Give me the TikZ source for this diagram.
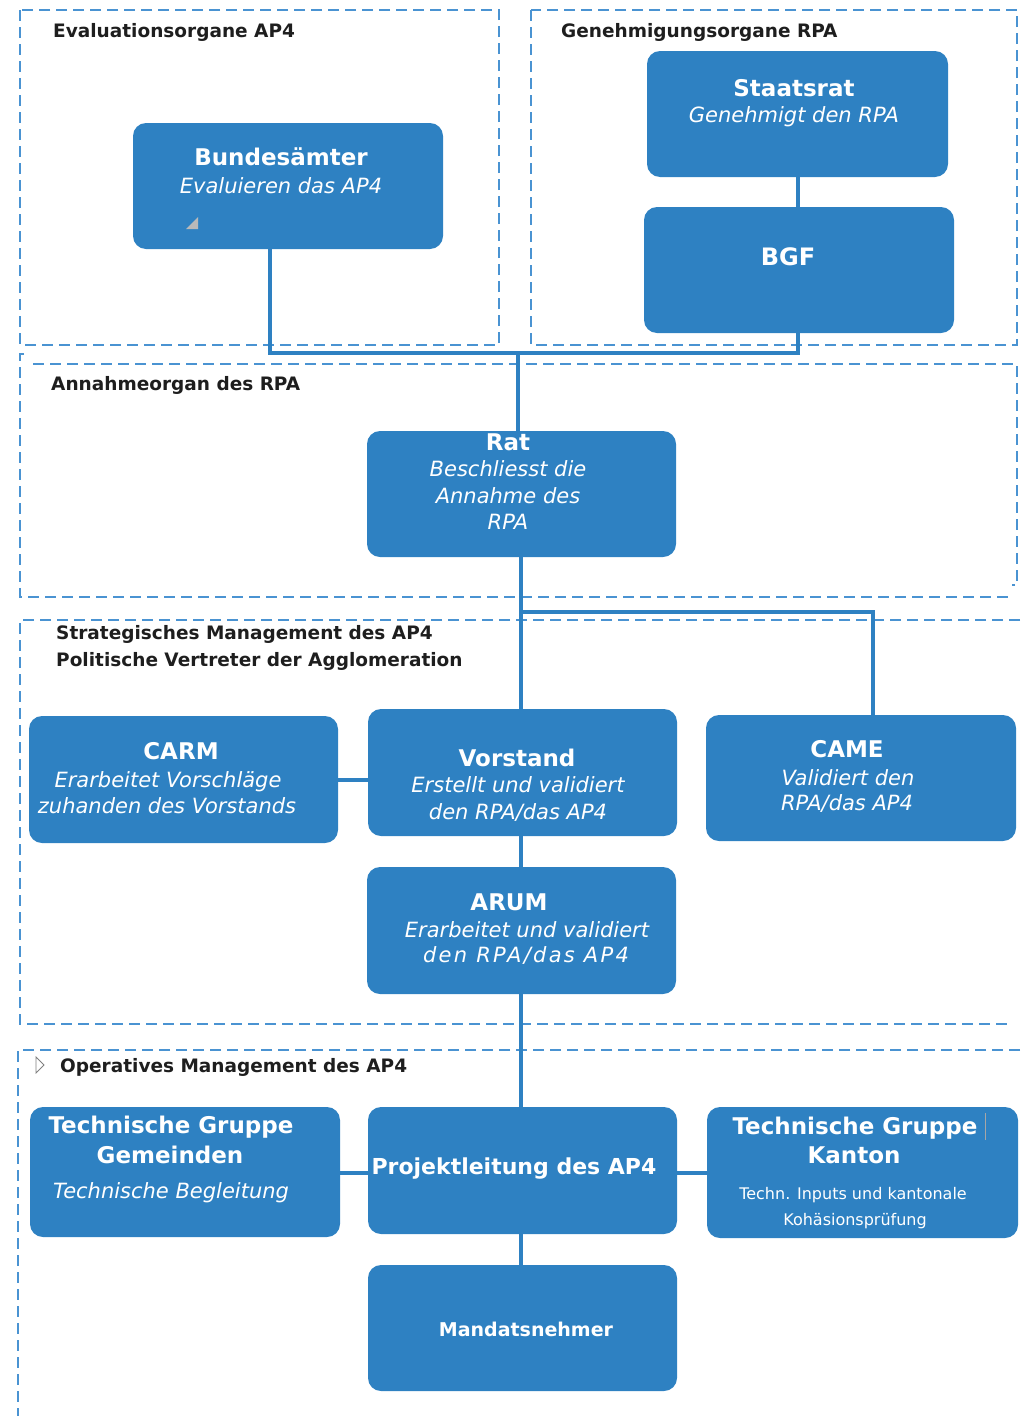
\documentclass[tikz,border=0pt]{standalone}
\usepackage{fontspec}
\setmainfont{DejaVu Sans}
\usetikzlibrary{calc}
\definecolor{boxblue}{HTML}{2E81C2}
\definecolor{dashblue}{HTML}{4A93D2}
\definecolor{hdrtext}{HTML}{1E1E1E}
\newcommand{\orgbox}[5]{\node[orgnode,minimum width={#4-#2},minimum height={#5-#3}] (#1) at ({(#2+#4)/2},{(#3+#5)/2}) {};}
\begin{document}
\begin{tikzpicture}[x=1pt,y=-1pt,
  orgnode/.style={draw=none,fill=boxblue,rounded corners=13pt,inner sep=0pt,outer sep=0pt},
  txtbase/.style={text=white,inner sep=0pt,text height=0.75em,text depth=0.2em,yshift=-5.5pt},
  ttl/.style={txtbase,font=\fontsize{23}{26}\selectfont\bfseries},
  subt/.style={txtbase,font=\fontsize{21}{24}\selectfont\itshape},
  smalltxt/.style={txtbase,font=\fontsize{16}{19}\selectfont},
  hd/.style={text=hdrtext,font=\fontsize{18.5}{22}\selectfont\bfseries,anchor=west,inner sep=0pt,text height=0.75em,text depth=0.2em,yshift=-5pt},
  framedash/.style={draw=dashblue,line width=1.9pt,dash pattern=on 11pt off 6pt},
  conn/.style={draw=boxblue,line width=4.5pt,line join=miter}]
\useasboundingbox (0,0) rectangle (1020,1416);

% dashed frames
\draw[framedash] (20,10) rectangle (499,345);
\draw[framedash] (531,10) rectangle (1017,345);
\draw[framedash] (24,354) -- (20,354) -- (20,597) -- (1013,597);
\draw[framedash] (33,364) -- (1017,364) -- (1017,585) -- (1012,585);
\draw[framedash] (1020,620) -- (20,620) -- (20,1024) -- (1013,1024);
\draw[framedash] (1020,1050) -- (18,1050) -- (18,1416);

% boxes
\orgbox{bund}{133}{123}{443}{249}
\orgbox{staat}{647}{51}{948}{177}
\orgbox{bgf}{644}{207}{954}{333}
\orgbox{rat}{367}{431}{676}{557}
\orgbox{carm}{29}{716}{338}{843}
\orgbox{vor}{368}{709}{677}{836}
\orgbox{came}{706}{715}{1016}{841}
\orgbox{arum}{367}{867}{676}{994}
\orgbox{tgg}{30}{1107}{340}{1237}
\orgbox{proj}{368}{1107}{677}{1234}
\orgbox{tgk}{707}{1107}{1018}{1238}
\orgbox{mand}{368}{1265}{677}{1391}

% junction coordinates
\coordinate (jL) at (270,353);
\coordinate (jR) at (798,353);
\coordinate (jM) at (518,353);
\coordinate (jV) at (521,612);
\coordinate (jC) at (873,612);
\coordinate (cy) at (0,780);
\coordinate (ty) at (0,1173);

% connectors
\draw[conn] (bund.south -| jL) -- (jL) -- (jR) -- (bgf.south -| jR);
\draw[conn] (staat.south -| jR) -- (bgf.north -| jR);
\draw[conn] (jM) -- (rat.north -| jM);
\draw[conn] (rat.south -| jV) -- (vor.north -| jV);
\draw[conn] (jV) -- (jC) -- (came.north -| jC);
\draw[conn] (vor.south -| jV) -- (arum.north -| jV);
\draw[conn] (arum.south -| jV) -- (proj.north -| jV);
\draw[conn] (proj.south -| jV) -- (mand.north -| jV);
\draw[conn] (carm.east |- cy) -- (vor.west |- cy);
\draw[conn] (tgg.east |- ty) -- (proj.west |- ty);
\draw[conn] (proj.east |- ty) -- (tgk.west |- ty);

% headers
\node[hd] (h1) at (53,30) {Evaluationsorgane AP4};
\node[hd] (h2) at (561,30) {Genehmigungsorgane RPA};
\node[hd] (h3) at (51,383) {Annahmeorgan des RPA};
\node[hd] (h4) at (56,632) {Strategisches Management des AP4};
\node[hd] (h5) at (56,659) {Politische Vertreter der Agglomeration};
\node[hd] (h6) at (60,1065) {Operatives Management des AP4};
\draw[gray,line width=0.8pt,line join=miter] (36,1057) -- (44,1065) -- (36,1073) -- cycle;

% box texts
\node[ttl] (bund-t) at (281,157) {Bundesämter};
\node[subt] (bund-s) at (281,185) {Evaluieren das AP4};
\fill[gray!55] (186,229) -- (198,229) -- (198,217) -- cycle;

\node[ttl] (staat-t) at (794,88) {Staatsrat};
\node[subt] (staat-s) at (794,114) {Genehmigt den RPA};

\node[ttl,font=\fontsize{24}{27}\selectfont\bfseries] (bgf-t) at (788,257) {BGF};

\node[ttl] (rat-t) at (508,442) {Rat};
\node[subt] (rat-s1) at (508,468) {Beschliesst die};
\node[subt] (rat-s2) at (508,495) {Annahme des};
\node[subt] (rat-s3) at (508,521) {RPA};

\node[ttl] (carm-t) at (181,751) {CARM};
\node[subt] (carm-s1) at (168,779) {Erarbeitet Vorschläge};
\node[subt] (carm-s2) at (167,805) {zuhanden des Vorstands};

\node[ttl] (vor-t) at (517,758) {Vorstand};
\node[subt] (vor-s1) at (518,784) {Erstellt und validiert};
\node[subt] (vor-s2) at (518,811) {den RPA/das AP4};

\node[ttl] (came-t) at (847,749) {CAME};
\node[subt] (came-s1) at (848,777) {Validiert den};
\node[subt] (came-s2) at (847,802) {RPA/das AP4};

\node[ttl] (arum-t) at (509,902) {ARUM};
\node[subt] (arum-s1) at (527,929) {Erarbeitet und validiert};
\node[subt] (arum-s2) at (526,954) {\addfontfeature{LetterSpace=11}den RPA/das AP4};

\node[ttl] (tgg-t1) at (171,1125) {Technische Gruppe};
\node[ttl] (tgg-t2) at (170,1155) {Gemeinden};
\node[subt] (tgg-s) at (171,1190) {Technische Begleitung};

\node[ttl,font=\fontsize{22}{25}\selectfont\bfseries] (proj-t) at (514,1166) {Projektleitung des AP4};

\node[ttl] (tgk-t1) at (855,1126) {Technische Gruppe};
\node[ttl] (tgk-t2) at (854,1155) {Kanton};
\node[smalltxt] (tgk-s1) at (853,1191) {Techn. Inputs und kantonale};
\node[smalltxt] (tgk-s2) at (855,1217) {Kohäsionsprüfung};
\draw[gray!70,line width=1pt] (985,1113) -- (985,1140);

\node[ttl,font=\fontsize{19}{22}\selectfont\bfseries] (mand-t) at (526,1328) {Mandatsnehmer};
\end{tikzpicture}
\end{document}
